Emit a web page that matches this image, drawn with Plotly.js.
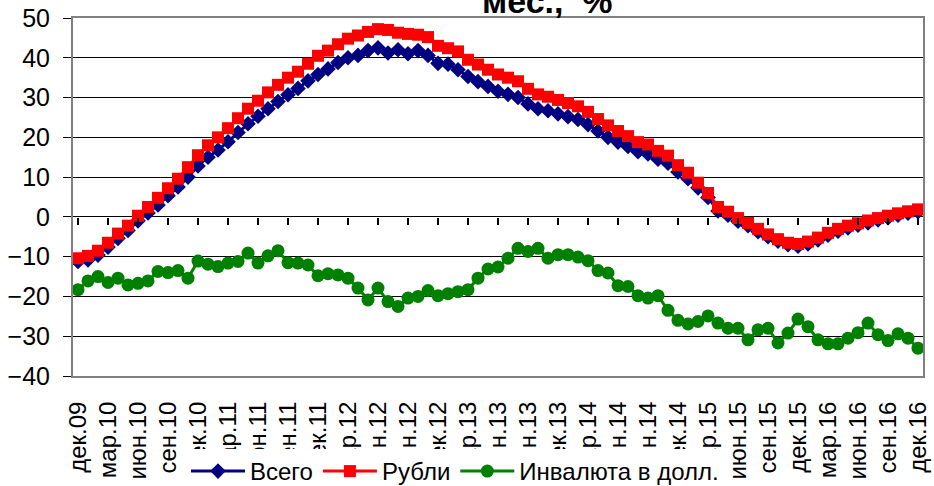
<!DOCTYPE html>
<html>
<head>
<meta charset="utf-8">
<script src="https://cdn.plot.ly/plotly-3.0.1.min.js"></script>
<style>
html,body{margin:0;padding:0;background:#fff;}
#chart{width:934px;height:486px;}
</style>
</head>
<body>
<div id="chart"></div>
<script>
const months = [
  'дек.09',
  'янв.10','фев.10','мар.10','апр.10','май.10','июн.10','июл.10','авг.10','сен.10','окт.10','ноя.10','дек.10',
  'янв.11','фев.11','мар.11','апр.11','май.11','июн.11','июл.11','авг.11','сен.11','окт.11','ноя.11','дек.11',
  'янв.12','фев.12','мар.12','апр.12','май.12','июн.12','июл.12','авг.12','сен.12','окт.12','ноя.12','дек.12',
  'янв.13','фев.13','мар.13','апр.13','май.13','июн.13','июл.13','авг.13','сен.13','окт.13','ноя.13','дек.13',
  'янв.14','фев.14','мар.14','апр.14','май.14','июн.14','июл.14','авг.14','сен.14','окт.14','ноя.14','дек.14',
  'янв.15','фев.15','мар.15','апр.15','май.15','июн.15','июл.15','авг.15','сен.15','окт.15','ноя.15','дек.15',
  'янв.16','фев.16','мар.16','апр.16','май.16','июн.16','июл.16','авг.16','сен.16','окт.16','ноя.16','дек.16'
];
const tickLabels = [
  'дек.09','мар.10','июн.10','сен.10','дек.10','мар.11','июн.11','сен.11','дек.11',
  'мар.12','июн.12','сен.12','дек.12','мар.13','июн.13','сен.13','дек.13','мар.14',
  'июн.14','сен.14','дек.14','мар.15','июн.15','сен.15','дек.15','мар.16','июн.16',
  'сен.16','дек.16'
];
const totalVals = [
  -11.2,-10.8,-9.6,-7.6,-5.4,-3.4,-1.0,1.0,3.0,5.3,
  7.5,10.0,12.8,15.0,16.8,18.9,21.2,23.4,25.3,27.2,
  29.0,30.7,32.3,34.2,35.8,37.2,38.8,40.0,40.6,41.8,
  42.5,41.2,42.0,41.0,41.8,40.6,38.6,38.4,37.0,35.3,
  34.0,32.8,31.6,30.8,30.0,28.4,27.2,26.7,25.9,25.2,
  24.5,23.2,21.6,20.0,18.8,17.7,16.4,15.8,14.5,13.5,
  11.3,9.6,7.3,4.9,1.5,0.4,-1.1,-2.2,-3.7,-5.0,
  -6.1,-7.0,-7.4,-6.8,-5.8,-4.6,-3.6,-2.8,-2.1,-1.5,
  -0.8,-0.2,0.4,0.9,1.3
];
const rubVals = [
  -10.4,-9.8,-8.5,-6.5,-4.2,-2.2,0.3,2.5,4.8,7.2,
  9.6,12.5,15.5,18.0,20.0,22.3,24.8,27.2,29.2,31.3,
  33.2,35.0,36.5,38.5,40.5,41.8,43.4,44.8,45.6,46.5,
  47.2,47.0,46.3,46.0,45.8,45.2,43.0,42.4,41.6,39.5,
  38.3,37.0,35.8,35.0,34.1,32.2,30.8,30.2,29.4,28.6,
  27.8,26.4,24.6,23.0,21.6,20.3,18.8,18.2,16.6,15.4,
  13.0,11.1,8.6,6.0,2.5,1.3,-0.3,-1.5,-3.0,-4.4,
  -5.6,-6.5,-6.8,-6.2,-5.2,-4.0,-3.0,-2.2,-1.6,-0.9,
  -0.3,0.3,0.9,1.4,1.9
];
const fxVals = [
  -18.3,-16.1,-15.0,-16.5,-15.4,-17.1,-16.7,-16.1,-13.7,-14.0,
  -13.5,-15.4,-11.1,-11.9,-12.5,-11.6,-11.2,-9.1,-11.6,-9.8,
  -8.5,-11.5,-11.6,-12.1,-14.8,-14.3,-14.6,-15.4,-17.9,-20.9,
  -17.9,-21.3,-22.5,-20.4,-20.0,-18.5,-19.8,-19.3,-18.8,-18.3,
  -15.4,-13.1,-12.6,-10.4,-7.9,-8.7,-7.9,-10.4,-9.5,-9.5,
  -10.1,-11.0,-13.5,-14.1,-17.3,-17.5,-19.8,-20.4,-19.8,-23.5,
  -26.0,-26.9,-26.3,-24.9,-26.7,-28.0,-28.0,-30.9,-28.4,-28.0,
  -31.7,-29.2,-25.7,-27.6,-30.9,-31.9,-31.9,-30.5,-29.1,-26.7,
  -29.6,-31.1,-29.4,-30.5,-33.0
];
const seriesNames = ['Всего','Рубли','Инвалюта в долл.'];
const titleText = 'мес.,  %';

const FONT = 'Liberation Sans, Arial, sans-serif';

const traces = [
  {
    x: months, y: totalVals, name: seriesNames[0], type: 'scatter', mode: 'lines+markers',
    line: {color: '#000080', width: 3},
    marker: {symbol: 'diamond', size: 12, color: '#000080'}
  },
  {
    x: months, y: rubVals, name: seriesNames[1], type: 'scatter', mode: 'lines+markers',
    line: {color: '#FF0000', width: 3},
    marker: {symbol: 'square', size: 12, color: '#FF0000'}
  },
  {
    x: months, y: fxVals, name: seriesNames[2], type: 'scatter', mode: 'lines+markers',
    line: {color: '#008000', width: 3},
    marker: {symbol: 'circle', size: 13, color: '#008000'}
  },
  {
    x: months, y: totalVals, xaxis: 'x2', yaxis: 'y', type: 'scatter', mode: 'none',
    showlegend: false, hoverinfo: 'skip'
  }
];

const layout = {
  width: 934, height: 486,
  margin: {l: 73, r: 11, t: 18, b: 110},
  paper_bgcolor: '#ffffff', plot_bgcolor: '#ffffff',
  font: {family: FONT, color: '#000000'},
  showlegend: true,
  title: {
    text: '<b>' + titleText + '</b>',
    font: {family: FONT, size: 34, color: '#000000'},
    xref: 'container', x: 0.586, xanchor: 'center',
    yref: 'container', y: 0.998, yanchor: 'middle'
  },
  xaxis: {
    type: 'category',
    range: [-0.5, 84.5],
    tickmode: 'array', tickvals: tickLabels, ticktext: tickLabels,
    ticks: '', tickangle: -90,
    tickfont: {family: FONT, size: 24, color: '#000000'},
    ticklabelstandoff: 14,
    showgrid: false, zeroline: false,
    showline: true, linecolor: '#808080', linewidth: 2, mirror: true
  },
  xaxis2: {
    type: 'category',
    overlaying: 'x', anchor: 'free', position: 40/90, side: 'bottom',
    range: [-0.5, 84.5],
    tickmode: 'linear', tick0: -0.5, dtick: 3,
    ticks: 'outside', ticklen: 7, tickwidth: 1.5, tickcolor: '#000000',
    showticklabels: false, showgrid: false, zeroline: false, showline: false
  },
  yaxis: {
    range: [-40, 50], dtick: 10, tick0: 0,
    ticks: 'outside', ticklen: 8, tickwidth: 1, tickcolor: '#000000',
    tickfont: {family: FONT, size: 25, color: '#000000'},
    ticklabelstandoff: 8,
    showgrid: true, gridcolor: '#000000', gridwidth: 1,
    zeroline: false,
    showline: true, linecolor: '#808080', linewidth: 2, mirror: true
  },
  legend: {
    orientation: 'h',
    xref: 'container', x: 186/934, xanchor: 'left',
    yref: 'container', y: 37/486, yanchor: 'top',
    bgcolor: '#ffffff', borderwidth: 0,
    font: {family: FONT, size: 24, color: '#000000'},
    itemwidth: 54, tracegroupgap: 0
  }
};

Plotly.newPlot('chart', traces, layout, {displayModeBar: false, staticPlot: true});
</script>
</body>
</html>
